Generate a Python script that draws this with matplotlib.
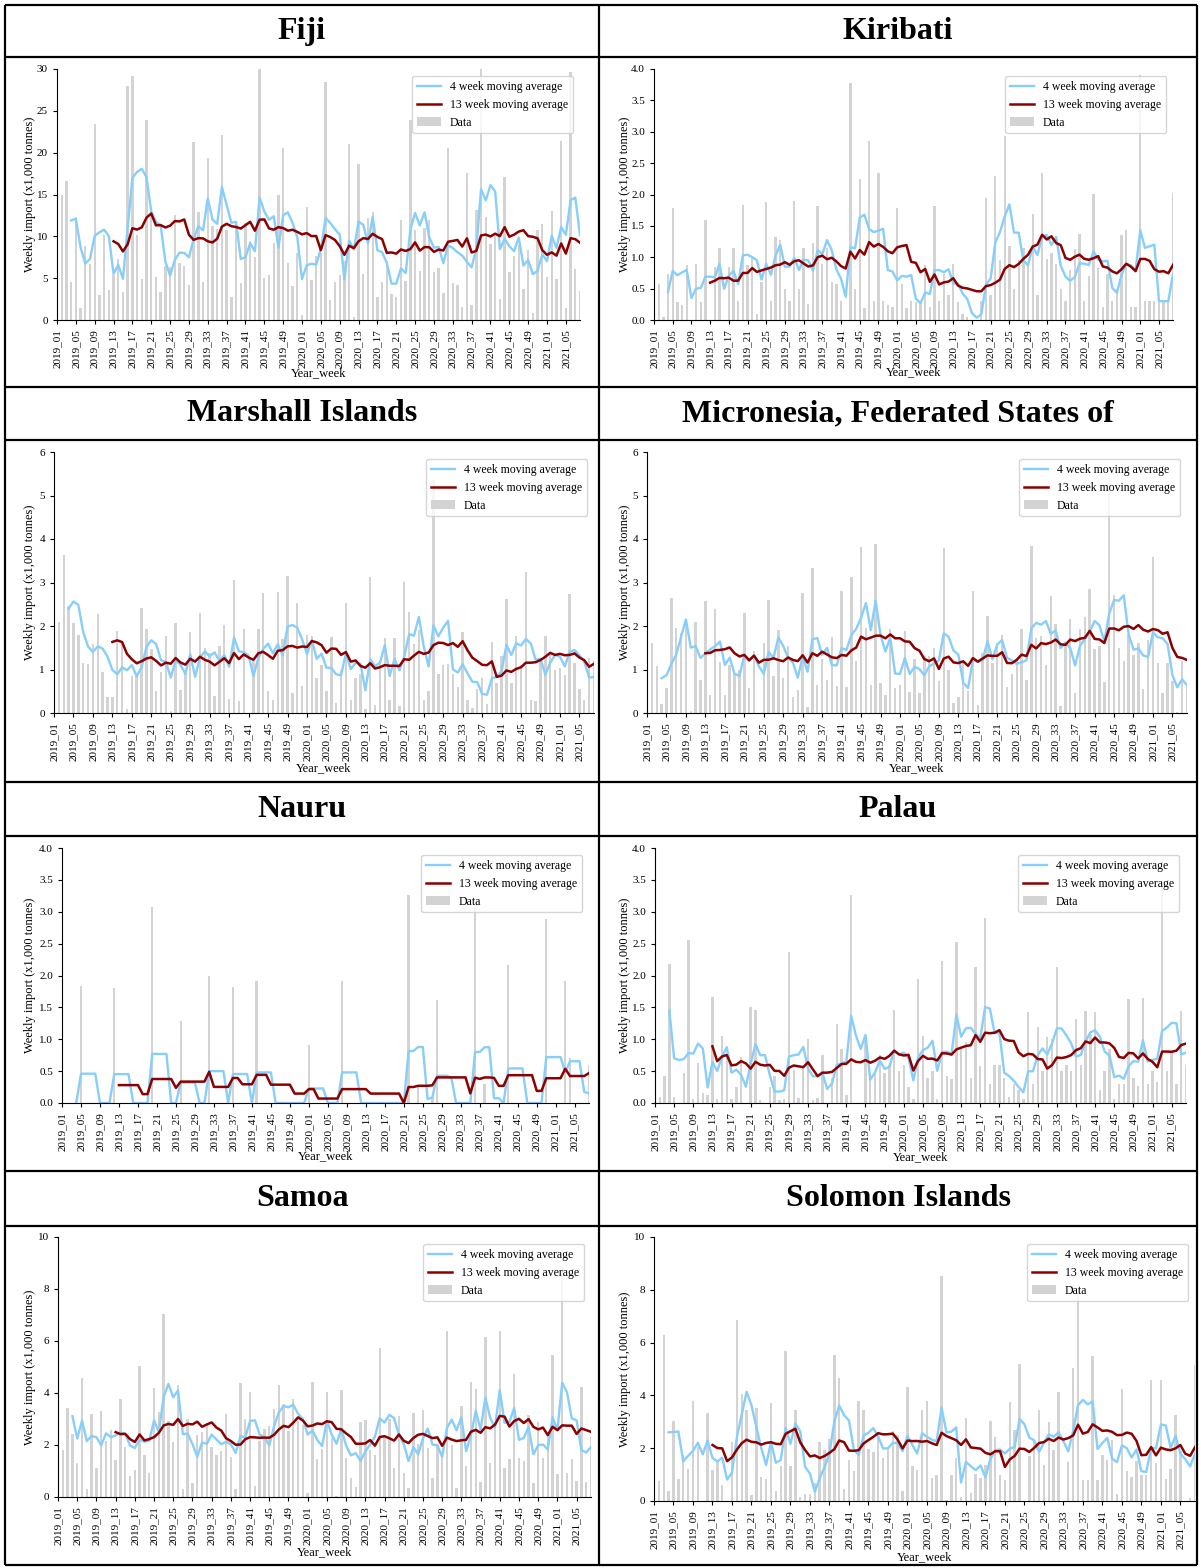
import numpy as np
import pandas as pd
import matplotlib
matplotlib.use("Agg")
import matplotlib.pyplot as plt
from matplotlib.lines import Line2D
from matplotlib.patches import Patch

plt.rcParams['font.family'] = ['Liberation Serif', 'DejaVu Serif']

# week labels 2019_01 ... 2021_08
years = [2019, 2020, 2021]
weeks_per_year = [52, 52, 8]
week_labels = [f"{y}_{w:02d}" for y, n in zip(years, weeks_per_year) for w in range(1, n + 1)]

# weekly imports (x1,000 tonnes)
fiji = [11.5, 15.0, 16.6, 4.5, 12.3, 1.4, 8.8, 6.7, 23.4, 3.0, 10.1, 3.6, 5.4, 7.3, 3.4, 28.0,
        29.2, 10.2, 4.9, 23.9, 13.0, 5.1, 3.3, 6.5, 6.3, 12.6, 6.8, 6.4, 4.2, 21.3, 12.9, 4.5,
        19.4, 11.2, 10.9, 22.1, 10.8, 2.7, 11.3, 4.4, 11.6, 9.4, 7.5, 30.0, 5.0, 5.4, 9.2, 14.9,
        20.6, 6.8, 4.1, 8.0, 0.6, 13.5, 4.8, 7.6, 8.0, 28.4, 2.4, 4.6, 5.4, 7.0, 21.0, 0.3,
        18.7, 5.5, 12.2, 12.9, 2.7, 4.6, 7.0, 3.1, 2.7, 11.9, 4.7, 23.9, 10.7, 5.9, 11.0, 12.0,
        5.7, 6.2, 3.2, 20.6, 4.4, 4.2, 1.6, 17.6, 1.8, 13.1, 30.0, 12.3, 9.1, 10.0, 2.5, 17.1,
        5.7, 7.6, 9.0, 3.7, 8.4, 0.8, 10.7, 11.5, 5.1, 13.0, 4.9, 21.4, 1.4, 29.6, 6.1, 3.5]
kiribati = [0.45, 0.57, 0.05, 0.73, 1.78, 0.29, 0.24, 0.87, 0.0, 0.89, 0.28, 1.59, 0.0, 0.85,
            1.14, 0.0, 0.84, 1.15, 0.30, 1.83, 0.88, 1.0, 0.1, 0.6, 1.88, 0.3, 1.32, 1.28, 0.5,
            0.30, 1.89, 0.5, 1.15, 0.26, 1.23, 1.81, 0.9, 1.15, 0.6, 0.58, 0.3, 0.0, 3.77, 0.5,
            2.25, 0.19, 2.86, 0.3, 2.35, 0.3, 0.24, 0.2, 1.79, 0.58, 0.19, 0.30, 0.29, 0.3, 0.87,
            0.2, 1.81, 0.3, 0.73, 0.4, 0.9, 0.29, 0.1, 0.05, 0.0, 0.0, 0.3, 1.95, 0.4, 2.30, 0.95,
            2.94, 1.18, 0.5, 0.95, 1.15, 0.9, 1.69, 0.4, 2.34, 0.98, 1.07, 0.9, 0.5, 0.3, 0.8,
            1.13, 1.37, 0.30, 0.7, 2.01, 0.83, 0.2, 0.73, 0.3, 0.5, 1.35, 1.43, 0.2, 0.2, 3.9,
            0.3, 0.3, 0.3, 0.3, 0.3, 0.3, 2.03]
marshall = [1.4, 2.1, 3.63, 2.46, 2.06, 1.79, 1.14, 1.12, 1.58, 2.28, 0.94, 0.37, 0.37, 1.88,
            1.58, 0.1, 0.85, 0.85, 2.42, 1.94, 1.48, 0.5, 0.94, 1.77, 0.05, 2.08, 0.54, 0.93,
            1.86, 0.0, 2.31, 1.5, 1.39, 0.38, 1.53, 2.02, 0.32, 3.06, 0.27, 1.94, 0.0, 1.19,
            1.94, 2.75, 0.5, 0.3, 2.79, 1.7, 3.15, 0.46, 2.54, 0.62, 1.79, 1.77, 0.8, 1.1, 0.5,
            1.74, 0.22, 1.0, 2.52, 0.3, 0.8, 0.9, 0.1, 3.13, 0.18, 1.2, 1.73, 0.3, 1.73, 0.17,
            3.02, 2.33, 1.58, 1.9, 0.3, 0.5, 5.35, 0.9, 1.1, 1.12, 0.9, 0.6, 1.86, 0.3, 0.12,
            0.55, 0.8, 0.2, 1.63, 0.7, 1.3, 2.63, 0.7, 1.78, 1.1, 3.23, 0.29, 0.27, 1.2, 1.77,
            1.38, 1.0, 1.03, 0.88, 2.73, 1.15, 0.55, 0.3, 1.26, 1.2]
micronesia = [0.3, 1.62, 1.08, 0.2, 0.57, 2.64, 1.96, 1.83, 2.17, 0.05, 2.1, 0.75, 2.58, 0.42,
              2.4, 1.17, 0.42, 1.1, 0.9, 1.0, 2.31, 0.57, 1.42, 0.0, 1.6, 2.6, 0.85, 1.9, 0.81,
              1.54, 0.36, 0.54, 2.77, 0.13, 3.34, 0.65, 1.23, 0.77, 1.75, 0.63, 2.81, 0.6, 3.13,
              1.2, 3.82, 1.96, 0.65, 3.89, 0.69, 0.42, 1.94, 0.58, 0.65, 1.88, 0.48, 1.23, 0.45,
              1.31, 1.3, 1.5, 0.73, 3.8, 0.98, 0.23, 0.37, 1.2, 0.5, 2.81, 0.18, 1.38, 2.23, 1.15,
              1.54, 1.79, 0.6, 0.9, 1.23, 1.94, 0.77, 3.85, 1.73, 1.77, 1.1, 2.68, 2.04, 0.15,
              1.6, 2.17, 0.46, 1.94, 2.21, 2.85, 1.46, 1.55, 0.71, 5.4, 2.72, 1.5, 1.2, 1.8,
              1.33, 1.6, 0.56, 1.67, 3.59, 1.15, 0.46, 1.15, 0.73, 0.02, 1.2, 0.6]
nauru = [0.0] * 112
for i, v in [(4, 1.84), (11, 1.81), (19, 3.08), (25, 1.28), (31, 2.0), (36, 1.82), (41, 1.92),
             (52, 0.91), (59, 1.92), (73, 3.26), (75, 0.25), (78, 0.1), (79, 1.61), (87, 3.2),
             (89, 0.3), (94, 2.17), (102, 2.88), (106, 1.92), (107, 0.7), (111, 0.6)]:
    nauru[i] = v
palau = [3.1, 0.1, 0.42, 2.18, 0.1, 0.0, 0.47, 2.56, 0.07, 0.63, 0.16, 0.12, 1.66, 0.06, 1.05,
         0.73, 0.06, 0.25, 0.72, 0.0, 1.5, 1.46, 0.04, 0.0, 0.25, 0.43, 0.04, 0.07, 2.37, 0.52,
         0.08, 0.55, 1.0, 0.05, 0.08, 0.75, 0.0, 0.4, 1.24, 0.84, 0.12, 3.27, 0.0, 0.0, 1.0,
         0.47, 0.45, 0.75, 0.47, 0.6, 1.46, 0.5, 0.6, 0.25, 0.07, 1.95, 1.05, 0.4, 0.5, 0.07,
         2.23, 0.42, 0.37, 2.52, 0.85, 0.95, 0.4, 2.14, 0.58, 2.9, 0.3, 0.6, 0.6, 0.4, 0.1, 0.3,
         0.2, 0.07, 1.42, 0.3, 1.2, 0.5, 1.04, 1.0, 2.14, 0.5, 0.6, 0.5, 1.31, 0.6, 1.44, 1.09,
         1.43, 0.2, 0.5, 0.85, 0.07, 0.3, 0.3, 1.63, 0.4, 0.26, 1.65, 0.3, 0.5, 0.33, 3.4, 0.5,
         0.8, 0.3, 1.45, 0.6]
samoa = [4.75, 1.82, 3.44, 2.42, 1.32, 4.58, 0.3, 3.19, 1.13, 3.32, 2.16, 2.59, 1.41, 3.77,
         1.93, 0.81, 1.03, 5.05, 1.62, 0.93, 4.19, 3.26, 7.04, 2.91, 2.13, 4.32, 0.3, 3.0, 0.53,
         2.37, 2.5, 2.8, 1.93, 1.62, 1.77, 3.19, 1.52, 0.3, 4.37, 3.0, 4.02, 0.42, 2.16, 2.6,
         2.74, 3.38, 4.32, 3.56, 2.54, 3.77, 2.93, 2.76, 0.14, 4.41, 1.45, 1.84, 4.05, 2.26,
         0.05, 4.11, 1.5, 0.74, 0.4, 2.9, 2.96, 1.8, 1.62, 5.73, 2.3, 3.0, 1.1, 3.12, 0.94,
         0.36, 3.25, 2.03, 3.35, 1.9, 0.75, 2.0, 1.5, 6.4, 2.0, 0.36, 3.5, 1.2, 4.41, 4.15,
         0.59, 6.14, 1.32, 2.6, 6.4, 1.1, 1.45, 4.75, 1.49, 1.39, 3.15, 0.55, 2.87, 1.5, 2.4,
         5.48, 0.9, 8.8, 0.94, 1.45, 0.6, 4.22, 0.58, 2.29]
solomon = [3.0, 0.76, 6.28, 0.37, 3.03, 0.85, 1.75, 1.22, 3.79, 2.04, 0.0, 3.33, 1.16, 1.5,
           0.59, 0.0, 2.23, 6.84, 4.04, 3.43, 0.21, 3.52, 0.91, 0.82, 3.7, 0.37, 1.31, 5.67,
           1.31, 3.43, 0.15, 0.28, 0.28, 0.69, 2.23, 1.92, 2.36, 5.52, 4.65, 0.47, 1.56, 1.14,
           3.79, 3.43, 1.97, 1.86, 2.5, 1.63, 2.0, 2.67, 2.5, 0.38, 4.32, 1.31, 1.19, 3.43,
           3.79, 0.88, 0.97, 8.52, 0.03, 0.97, 1.64, 0.16, 3.16, 0.32, 1.03, 0.88, 1.37, 3.03,
           2.42, 0.98, 0.78, 3.74, 2.7, 5.2, 0.0, 1.7, 2.3, 3.43, 1.37, 3.0, 1.92, 4.13, 0.0,
           1.48, 5.05, 7.98, 0.81, 0.81, 5.48, 0.78, 1.73, 1.57, 2.32, 0.28, 4.25, 1.15, 0.91,
           1.5, 0.97, 1.0, 4.57, 1.44, 4.58, 0.85, 1.2, 3.24, 1.9, 0.0, 0.1, 5.14]

countries = ["Fiji", "Kiribati", "Marshall Islands", "Micronesia, Federated States of",
             "Nauru", "Palau", "Samoa", "Solomon Islands"]
series = [fiji, kiribati, marshall, micronesia, nauru, palau, samoa, solomon]
y_tops = [30, 4.0, 6, 6, 4.0, 4.0, 10, 10]
y_steps = [5, 0.5, 1, 1, 0.5, 0.5, 2, 2]

# layout in pixels of the 1201 x 1568 picture
W, H = 1201, 1568
# plot area of each panel: left, right, top, bottom
boxes = [(57, 580, 69, 320), (654, 1173, 69, 320),
         (54, 594, 452, 713), (647, 1187, 452, 713),
         (62, 589, 848, 1103), (655, 1186, 848, 1103),
         (58, 591, 1237, 1497), (654, 1195, 1237, 1501)]
xlabel_y = [373, 372, 768, 768, 1156, 1157, 1552, 1557]
row_lines = [5, 57, 387, 440, 782, 836, 1171, 1226, 1565]
title_rows = [(5, 57), (387, 440), (782, 836), (1171, 1226)]
col_x = [5, 599, 1197]

fig = plt.figure(figsize=(W / 100, H / 100), dpi=100)

# table grid and titles
bg = fig.add_axes([0, 0, 1, 1])
bg.set_xlim(0, W)
bg.set_ylim(H, 0)
bg.axis('off')
for y in row_lines:
    bg.plot([col_x[0], col_x[2]], [y, y], color='black', lw=1.6, solid_capstyle='butt')
for x in col_x:
    bg.plot([x, x], [row_lines[0], row_lines[-1]], color='black', lw=1.6, solid_capstyle='butt')
for k, name in enumerate(countries):
    r, c = divmod(k, 2)
    cx = (col_x[c] + col_x[c + 1]) / 2
    cy = (title_rows[r][0] + title_rows[r][1]) / 2
    bg.text(cx, cy, name, ha='center', va='center', fontsize=23, fontweight='bold')

idx = np.arange(len(week_labels))
tick_pos = idx[::4]

for k, values in enumerate(series):
    L, R, T, B = boxes[k]
    ax = fig.add_axes([L / W, 1 - B / H, (R - L) / W, (B - T) / H])
    ax.set_facecolor('none')
    s = pd.Series(values, index=idx)
    ax.bar(idx, s.values, width=0.5, color='lightgray', zorder=1)
    ax.plot(idx, s.rolling(4).mean(), color='lightskyblue', lw=1.7, zorder=2)
    ax.plot(idx, s.rolling(13).mean(), color='darkred', lw=1.8, zorder=3)

    ax.set_xlim(0, len(idx) - 1)
    ax.set_ylim(0, y_tops[k])
    ticks = np.arange(0, y_tops[k] + y_steps[k] / 2, y_steps[k])
    ax.set_yticks(ticks)
    if y_steps[k] < 1:
        ax.set_yticklabels([f"{t:.1f}" for t in ticks])
    else:
        ax.set_yticklabels([f"{t:g}" for t in ticks])
    ax.set_xticks(tick_pos)
    ax.set_xticklabels([week_labels[i] for i in tick_pos], rotation=90)
    ax.tick_params(labelsize=8, length=3, width=0.8)
    for side in ['top', 'right']:
        ax.spines[side].set_visible(False)

    ylab_x = 36 if k % 2 == 0 else 631
    ax.set_ylabel('Weekly import (x1,000 tonnes)', fontsize=9)
    ax.yaxis.set_label_coords((ylab_x - L) / (R - L), 0.5)
    ax.set_xlabel('Year_week', fontsize=9)
    ax.xaxis.set_label_coords(0.5, (B - (xlabel_y[k] - 6)) / (B - T))

    handles = [Line2D([], [], color='lightskyblue', lw=1.7),
               Line2D([], [], color='darkred', lw=1.8),
               Patch(facecolor='lightgray')]
    ax.legend(handles, ['4 week moving average', '13 week moving average', 'Data'],
              loc='upper right', fontsize=8.5, borderaxespad=0.6)

fig.savefig('out.png', dpi=100)
